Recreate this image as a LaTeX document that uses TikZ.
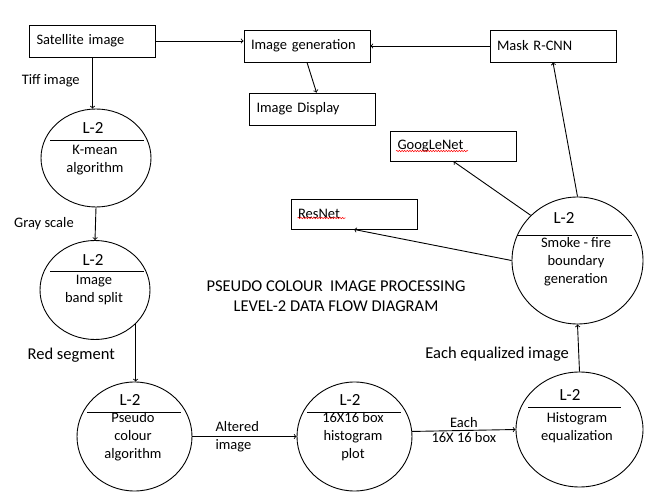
\documentclass[tikz,border=0pt]{standalone}
\usepackage{fontspec}
\setmainfont{Carlito}
\usepackage{tikz}
\usetikzlibrary{shapes,arrows,positioning,calc,decorations.pathmorphing}

\tikzset{
  box/.style={draw, rectangle, minimum width=126pt, minimum height=32pt, inner xsep=7pt, text width=112pt, align=left},
  proc/.style 2 args={draw, ellipse, minimum width=#1, minimum height=#2, inner sep=0pt},
  lev/.style={font=\fontsize{17}{20}\selectfont},
  spell/.style={red, line width=0.5pt, decorate, decoration={snake, amplitude=0.7pt, segment length=2.6pt}}
}

\begin{document}
\begin{tikzpicture}[x=1pt, y=-1pt, >=to, line width=0.9pt,
                    every node/.style={font=\fontsize{14.5}{18}\selectfont, align=center}]
                    \useasboundingbox (0,0) rectangle (665,500);
                    % boxes
                    \node[box] (sat) at (92.5,41) {Satellite image};
                    \node[box] (gen) at (307,46) {Image generation};
                    \node[box] (disp) at (312.5,109) {Image Display};
                    \node[box] (mask) at (553,46) {Mask R-CNN};
                    \node[box, minimum height=30pt] (goog) at (453.5,146) {GoogLeNet};
                    \node[box, minimum height=30pt] (res) at (354,214) {ResNet};
                    \draw[spell] ($(goog.west)+(6,5)$) -- ($(goog.west)+(78,5)$);
                    \draw[spell] ($(res.west)+(7,4)$) -- ($(res.west)+(55,4)$);
                    % processes
                    \node[proc={110pt}{98pt}] (kmean) at (96,158) {};
                    \node[lev] (kmeanL) at ($(kmean)+(-3,-30)$) {L-2};
                    \draw ($(kmean)+(-46,-18)$) -- ($(kmean)+(48,-18)$);
                    \node (kmeanT) at ($(kmean)+(-1,2)$) {K-mean\\algorithm};
                    \node[proc={110pt}{99pt}] (split) at (95,290) {};
                    \node[lev] (splitL) at ($(split)+(-2,-30)$) {L-2};
                    \draw ($(split)+(-45,-19)$) -- ($(split)+(49,-19)$);
                    \node (splitT) at ($(split)+(-1,0)$) {Image\\band split};
                    \node[proc={115pt}{109pt}] (pseudo) at (134.5,436.5) {};
                    \node[lev] (pseudoL) at ($(pseudo)+(-4.5,-36.5)$) {L-2};
                    \draw ($(pseudo)+(-47.5,-24)$) -- ($(pseudo)+(46.5,-24)$);
                    \node (pseudoT) at ($(pseudo)+(-1.5,0.5)$) {Pseudo\\colour\\algorithm};
                    \node[proc={115pt}{109pt}] (hbox) at (354.5,436.5) {};
                    \node[lev] (hboxL) at ($(hbox)+(-4.5,-36.5)$) {L-2};
                    \draw ($(hbox)+(-47.5,-24)$) -- ($(hbox)+(46.5,-24)$);
                    \node (hboxT) at ($(hbox)+(-1.5,0.5)$) {16X16 box\\histogram\\plot};
                    \node[proc={127pt}{115pt}] (histeq) at (579.5,429.5) {};
                    \node[lev] (histeqL) at ($(histeq)+(-9.5,-34.5)$) {L-2};
                    \draw ($(histeq)+(-51.5,-22)$) -- ($(histeq)+(41.5,-22)$);
                    \node (histeqT) at ($(histeq)+(-2.5,-1.5)$) {Histogram\\equalization};
                    \node[proc={131pt}{127pt}] (smoke) at (577.5,260.5) {};
                    \node[lev] (smokeL) at ($(smoke)+(-13.5,-42.5)$) {L-2};
                    \draw ($(smoke)+(-60.5,-25.5)$) -- ($(smoke)+(54.5,-25.5)$);
                    \node (smokeT) at ($(smoke)+(-1.5,1)$) {Smoke - fire\\boundary\\generation};
                    % title
                    \node[font=\fontsize{16.5}{20}\selectfont] (title) at (336,296) {PSEUDO COLOUR\ \ IMAGE PROCESSING\\LEVEL-2 DATA FLOW DIAGRAM};
                    % flows
                    \draw[->] (sat.east) -- (sat.east -| gen.west);
                    \draw[->] (mask.west) -- (gen.east);
                    \draw[->] (gen.south) -- ($(disp.north)+(4,0)$);
                    \draw[->] (sat.south) -- (sat.south |- kmean.north) node[pos=0.45, left=9pt] {Tiff image};
                    \draw[->] (kmean.south) -- (split.north) node[midway, left=18pt] {Gray scale};
                    \draw[->] (split.-40) -- (split.-40 |- pseudo.north) node[pos=0.55, left=17pt, font=\fontsize{16.5}{20}\selectfont] {Red segment};
                    \draw[->] (pseudo.east) -- (hbox.west) node[pos=0.43, align=left] {Altered\\image};
                    \draw[->] (hbox.5) -- (histeq.west) node[midway, above, inner sep=2pt] {Each} node[midway, below, inner sep=2pt] {16X 16 box};
                    \draw[->] (histeq.north) -- (smoke.south) node[pos=0.375, left=6pt, font=\fontsize{16.5}{20}\selectfont] {Each equalized image};
                    \draw[->] (smoke.north) -- (mask.south);
                    \draw[->] (smoke.136) -- (goog.south);
                    \draw[->] (smoke.west) -- (res.south);
                \end{tikzpicture}
\end{document}
